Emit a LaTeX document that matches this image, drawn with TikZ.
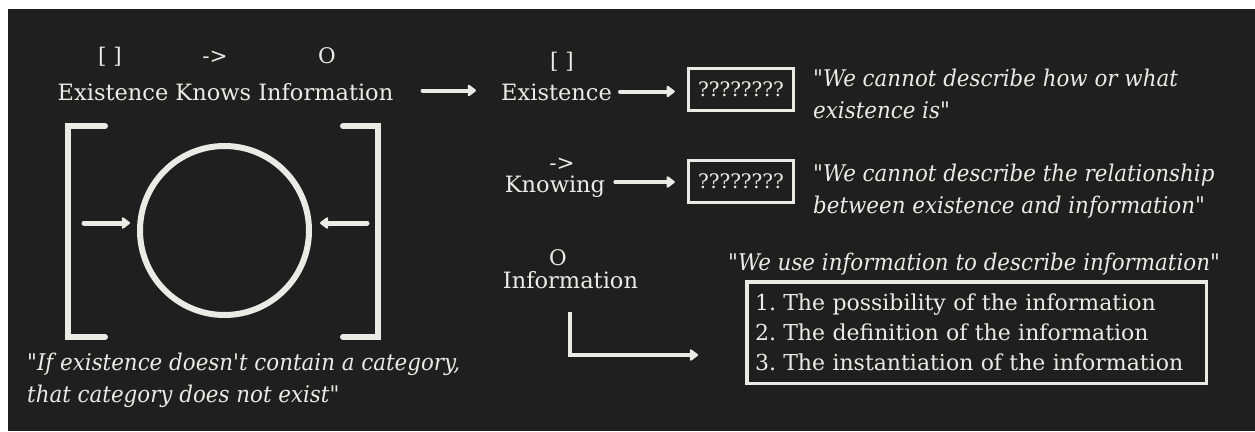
\documentclass[tikz,border=0pt]{standalone}
\usepackage{fontspec}
\setmainfont{DejaVu Serif}[Ligatures=TeXOff, ItalicFeatures={FakeStretch=0.93}]
\usetikzlibrary{arrows.meta}
\definecolor{bg}{HTML}{1F1F1F}
\definecolor{fg}{HTML}{EBEBE6}
\frenchspacing
\begin{document}
\begin{tikzpicture}[x=1pt,y=-1pt,
  lbl/.style={text=fg, inner sep=0pt, font=\fontsize{22.5}{26}\selectfont, text height=16pt, text depth=5pt},
  sym/.style={text=fg, inner sep=0pt, font=\fontsize{21.5}{26}\selectfont},
  quote/.style={text=fg, inner sep=0pt, font=\fontsize{23}{32}\selectfont\itshape, align=left},
  qbox/.style={draw=fg, line width=3.5pt, text=fg, inner sep=0pt, minimum width=105pt, minimum height=42pt, font=\fontsize{20}{24}\selectfont},
  arr/.style={draw=fg, line width=4pt, line cap=round, -{Triangle[length=9pt,width=13pt,round]}},
  thick line/.style={draw=fg, line width=6pt, line cap=round},
  ]
\useasboundingbox (0,0) rectangle (1255,431);
\fill[white] (0,0) rectangle (1255,431);
\fill[bg] (8,9) rectangle (1255,431);

% top-left title
\node[sym, anchor=base] (s1) at (110,63) {[ ]};
\node[sym, anchor=base] (s2) at (215,63) {->};
\node[sym, anchor=base] (s3) at (327,63) {O};
\node[lbl, anchor=base] (title) at (225.5,100) {Existence Knows Information};

% bracket figure
\draw[thick line] (105,126) -- (68,126) -- (68,337) -- (105,337);
\draw[thick line] (343,126) -- (378,126) -- (378,337) -- (343,337);
\node[draw=fg, line width=6pt, circle, minimum size=169pt, inner sep=0pt] (circ) at (224.5,230.5) {};
\coordinate (la) at (84,223);
\coordinate (ra) at (367,223);
\draw[arr, line width=5pt] (la) -- ([xshift=-7pt]la -| circ.west);
\draw[arr, line width=5pt] (ra) -- ([xshift=8pt]ra -| circ.east);

\node[quote, anchor=north west] (q0) at (27,353) {"If existence doesn't contain a category,\\that category does not exist"};

% right column
\node[sym, anchor=base] (e1) at (562,68) {[ ]};
\node[lbl, anchor=base] (exist) at (556.5,100) {Existence};
\node[sym, anchor=base] (k1) at (562,170) {->};
\node[lbl, anchor=base] (know) at (555,192) {Knowing};
\node[sym, anchor=base] (i1) at (558,265) {O};
\node[lbl, anchor=base] (info) at (570.5,288) {Information};

\draw[arr, shorten <=29pt, shorten >=25pt] ([yshift=4pt]title.east) -- ([yshift=4pt]exist.west);

\node[qbox] (b1) at (741,89.5) {????????};
\node[qbox] (b2) at (741,181.5) {????????};

\draw[arr, shorten <=8pt, shorten >=12pt] ([yshift=3pt]exist.east) -- ([yshift=3pt]exist.east -| b1.west);
\draw[arr, shorten <=10pt, shorten >=12pt] ([yshift=4.5pt]know.east) -- ([yshift=4.5pt]know.east -| b2.west);

\node[quote, anchor=north west] (q1) at (813,69) {"We cannot describe how or what\\existence is"};
\node[quote, anchor=north west] (q2) at (813,164) {"We cannot describe the relationship\\between existence and information"};

\node[quote, anchor=base west] (q3) at (728,270) {"We use information to describe information"};

\node[draw=fg, line width=3.5pt, text=fg, inner xsep=8.25pt, inner ysep=0pt, text width=443pt, minimum height=101.5pt, align=left, font=\fontsize{22}{30}\selectfont] (list) at (976.5,332.5) {1. The possibility of the information\\2. The definition of the information\\3. The instantiation of the information};

\coordinate (lend) at (698,355);
\draw[arr, line cap=butt, shorten <=19pt] (info.south -| 570,0) |- (lend);
\end{tikzpicture}
\end{document}
